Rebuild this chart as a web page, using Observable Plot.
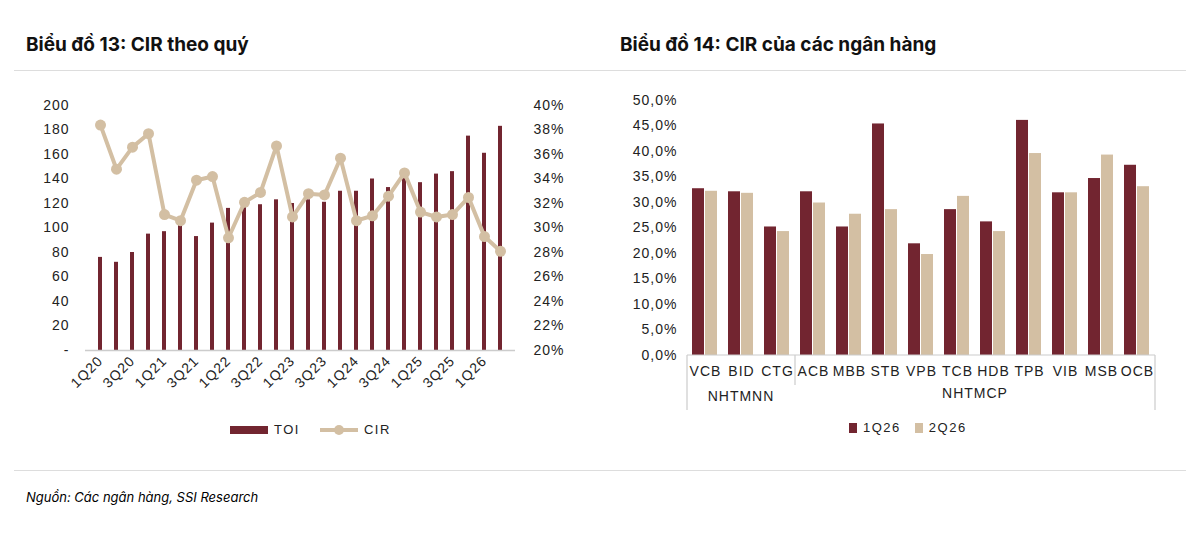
<!DOCTYPE html>
<html><head><meta charset="utf-8">
<script src="https://cdn.jsdelivr.net/npm/d3@7"></script>
<script src="https://cdn.jsdelivr.net/npm/@observablehq/plot@0.6"></script>
<style>
body{margin:0;background:#fff;font-family:"Liberation Sans",Arial,sans-serif;width:1200px;height:551px;position:relative;overflow:hidden}
.t{position:absolute;top:33px;font-family:Inter,"Liberation Sans",sans-serif;font-weight:700;font-size:19px;color:#111}
.hr{position:absolute;left:14px;right:14px;height:1px;background:#ddd}
.c{position:absolute}
.c svg text{letter-spacing:1px}
.lg{position:absolute;font-size:13px;letter-spacing:1.5px;color:#222;display:flex;align-items:center;gap:6px}
.src{position:absolute;left:26px;top:489px;font-style:italic;font-size:13px;font-family:Inter,"Liberation Sans",sans-serif}
</style></head><body>
<div class="t" style="left:26px">Biểu đồ 13: CIR theo quý</div>
<div class="t" style="left:620px">Biểu đồ 14: CIR của các ngân hàng</div>
<div class="hr" style="top:70px"></div>
<div class="hr" style="top:470px"></div>
<div id="c1" class="c" style="left:0;top:90px"></div>
<div id="c2" class="c" style="left:610px;top:90px"></div>
<div class="lg" style="left:230px;top:422px"><span style="display:inline-block;width:38px;height:8px;background:#722530"></span>TOI<span style="margin-left:14px;position:relative;display:inline-block;width:38px;height:4px;background:#d3bfa3"><span style="position:absolute;left:14px;top:-3px;width:10px;height:10px;border-radius:50%;background:#d3bfa3"></span></span>CIR</div>
<div class="lg" style="left:849px;top:420px"><span style="display:inline-block;width:8px;height:10px;background:#722530"></span>1Q26<span style="margin-left:8px;display:inline-block;width:8px;height:10px;background:#d3bfa3"></span>2Q26</div>
<div class="src">Nguồn: Các ngân hàng, SSI Research</div>
<script>
const quarters=["1Q20","2Q20","3Q20","4Q20","1Q21","2Q21","3Q21","4Q21","1Q22","2Q22","3Q22","4Q22","1Q23","2Q23","3Q23","4Q23","1Q24","2Q24","3Q24","4Q24","1Q25","2Q25","3Q25","4Q25","1Q26","2Q26"];
const toi=[76,72,80,95,97,103,93,104,116,117,119,123,120,123,121,130,130,140,133,145,137,144,146,175,161,183];
const cir=[38.4,34.8,36.6,37.7,31.1,30.6,33.9,34.2,29.2,32.1,32.9,36.7,30.9,32.8,32.7,35.7,30.6,31.0,32.6,34.5,31.3,30.9,31.1,32.5,29.3,28.1];
const banks=["VCB","BID","CTG","ACB","MBB","STB","VPB","TCB","HDB","TPB","VIB","MSB","OCB"];
const cir1Q26=[32.7,32.1,25.2,32.1,25.2,45.4,21.9,28.6,26.2,46.1,31.9,34.7,37.3];
const cir2Q26=[32.2,31.8,24.3,29.9,27.7,28.6,19.8,31.2,24.3,39.6,31.9,39.3,33.1];
const RED="#722530",BEIGE="#d3bfa3";

const d1=quarters.map((q,i)=>({q,toi:toi[i],cir:cir[i],cy:(cir[i]-20)*10}));
const p1=Plot.plot({width:580,height:330,marginLeft:85,marginRight:65,marginTop:15,marginBottom:70,
 style:{fontFamily:"Liberation Sans",fontSize:"14px",color:"#222"},
 x:{domain:quarters,padding:0.72,label:null},
 y:{domain:[0,200],label:null},
 marks:[
  Plot.barY(d1,{x:"q",y:"toi",fill:RED}),
  Plot.ruleY([0],{stroke:"#ccc",strokeWidth:1.5}),
  Plot.axisY({anchor:"left",ticks:d3.range(0,201,20),tickSize:0,tickPadding:16,tickFormat:d=>d===0?"-":d,label:null}),
  Plot.axisY({anchor:"right",ticks:d3.range(0,201,20),tickSize:0,tickPadding:18,tickFormat:d=>(20+d/10)+"%",label:null}),
  Plot.axisX({tickSize:0,tickRotate:-45,tickPadding:8,tickFormat:(d,i)=>i%2===0?d:"",label:null}),
  Plot.line(d1,{x:"q",y:"cy",stroke:BEIGE,strokeWidth:4}),
  Plot.dot(d1,{x:"q",y:"cy",fill:BEIGE,r:5.5})
 ]});
document.getElementById("c1").append(p1);

const d2=[];banks.forEach((b,i)=>{d2.push({b,s:"1Q26",v:cir1Q26[i]});d2.push({b,s:"2Q26",v:cir2Q26[i]});});
const p2=Plot.plot({width:570,height:320,marginLeft:72,marginRight:20,marginTop:10,marginBottom:55,
 style:{fontFamily:"Liberation Sans",fontSize:"14px",color:"#222"},
 fx:{domain:banks,padding:0,label:null,axis:null},
 x:{domain:["1Q26","2Q26"],padding:0.05,paddingOuter:0.35,axis:null},
 y:{domain:[0,50],ticks:10,label:null,tickSize:0,tickPadding:10,tickFormat:d=>d.toFixed(1).replace(".",",")+"%"},
 color:{domain:["1Q26","2Q26"],range:[RED,BEIGE]},
 marks:[
  Plot.barY(d2,{fx:"b",x:"s",y:"v",fill:"s"}),
  Plot.text(banks,{fx:d=>d,text:d=>d,frameAnchor:"bottom",dy:20})
 ]});
document.getElementById("c2").append(p2);
// group separators and labels using fx scale
(function(){
 const fx=p2.scale("fx"),svg=d3.select(p2),yb=320-55;
 const x0=fx.apply("VCB"),xe=fx.apply("OCB")+fx.bandwidth,xs=fx.apply("ACB");
 const g=svg.append("g").attr("stroke","#ccc").attr("stroke-width",1.2);
 g.append("line").attr("x1",x0).attr("x2",xe).attr("y1",yb).attr("y2",yb);
 [[x0,55],[xs,30],[xe,55]].forEach(([x,h])=>g.append("line").attr("x1",x).attr("x2",x).attr("y1",yb).attr("y2",yb+h));
 const t=svg.append("g").attr("font-size",14).attr("text-anchor","middle").style("letter-spacing","2px");
 t.append("text").attr("x",(x0+xs)/2).attr("y",yb+46).text("NHTMNN");
 t.append("text").attr("x",(xs+xe)/2).attr("y",yb+43).text("NHTMCP");
})();
</script></body></html>
